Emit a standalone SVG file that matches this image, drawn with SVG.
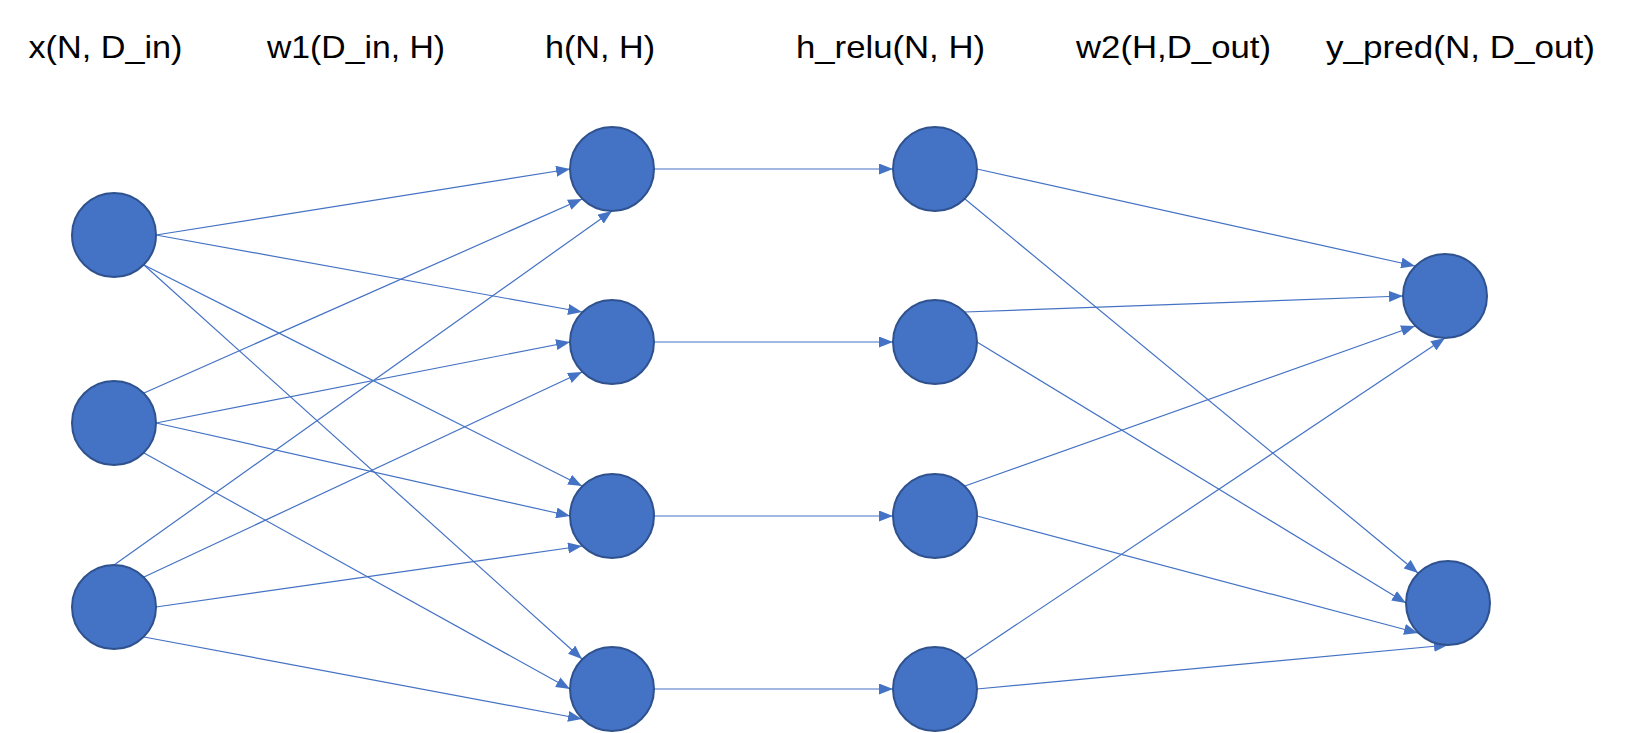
<svg xmlns="http://www.w3.org/2000/svg" width="1635" height="733" viewBox="0 0 1635 733">
<style>
.lbl{font-family:"Liberation Sans",Arial,sans-serif;font-size:32px;fill:#000}
.node{fill:#4472C4;stroke:#2F528F;stroke-width:2}
.edge{stroke:#4472C4;stroke-width:1.2;fill:none;marker-end:url(#arr)}
</style>
<defs>
<marker id="arr" markerWidth="14" markerHeight="11" refX="14" refY="5.5" orient="auto" markerUnits="userSpaceOnUse"><path d="M0,0 L14,5.5 L0,11 z" fill="#4472C4"/></marker>
</defs>
<rect width="1635" height="733" fill="#fff"/>
<g id="labels">
<text class="lbl" x="28.5" y="58" textLength="154" lengthAdjust="spacingAndGlyphs">x(N, D_in)</text>
<text class="lbl" x="267" y="58" textLength="178" lengthAdjust="spacingAndGlyphs">w1(D_in, H)</text>
<text class="lbl" x="545" y="58" textLength="110" lengthAdjust="spacingAndGlyphs">h(N, H)</text>
<text class="lbl" x="796" y="58" textLength="189" lengthAdjust="spacingAndGlyphs">h_relu(N, H)</text>
<text class="lbl" x="1076" y="58" textLength="195" lengthAdjust="spacingAndGlyphs">w2(H,D_out)</text>
<text class="lbl" x="1326" y="58" textLength="269" lengthAdjust="spacingAndGlyphs">y_pred(N, D_out)</text>
</g>
<g id="connectors">
<line class="edge" x1="156" y1="235" x2="570" y2="169"/>
<line class="edge" x1="156" y1="235" x2="582" y2="312"/>
<line class="edge" x1="144" y1="265" x2="582" y2="486"/>
<line class="edge" x1="144" y1="265" x2="582" y2="659"/>
<line class="edge" x1="144" y1="393" x2="582" y2="199"/>
<line class="edge" x1="156" y1="423" x2="570" y2="342"/>
<line class="edge" x1="156" y1="423" x2="570" y2="516"/>
<line class="edge" x1="144" y1="453" x2="570" y2="689"/>
<line class="edge" x1="114" y1="565" x2="612" y2="211"/>
<line class="edge" x1="144" y1="577" x2="582" y2="372"/>
<line class="edge" x1="156" y1="607" x2="582" y2="546"/>
<line class="edge" x1="144" y1="637" x2="582" y2="719"/>
<line class="edge" x1="654" y1="169" x2="893" y2="169"/>
<line class="edge" x1="654" y1="342" x2="893" y2="342"/>
<line class="edge" x1="654" y1="516" x2="893" y2="516"/>
<line class="edge" x1="654" y1="689" x2="893" y2="689"/>
<line class="edge" x1="977" y1="169" x2="1415" y2="266"/>
<line class="edge" x1="965" y1="199" x2="1418" y2="573"/>
<line class="edge" x1="965" y1="312" x2="1403" y2="296"/>
<line class="edge" x1="977" y1="342" x2="1406" y2="603"/>
<line class="edge" x1="965" y1="486" x2="1415" y2="326"/>
<line class="edge" x1="977" y1="516" x2="1418" y2="633"/>
<line class="edge" x1="965" y1="659" x2="1445" y2="338"/>
<line class="edge" x1="977" y1="689" x2="1448" y2="645"/>
</g>
<g id="x1"><circle class="node" cx="114" cy="235" r="42"/></g>
<g id="x2"><circle class="node" cx="114" cy="423" r="42"/></g>
<g id="x3"><circle class="node" cx="114" cy="607" r="42"/></g>
<g id="h1"><circle class="node" cx="612" cy="169" r="42"/></g>
<g id="h2"><circle class="node" cx="612" cy="342" r="42"/></g>
<g id="h3"><circle class="node" cx="612" cy="516" r="42"/></g>
<g id="h4"><circle class="node" cx="612" cy="689" r="42"/></g>
<g id="r1"><circle class="node" cx="935" cy="169" r="42"/></g>
<g id="r2"><circle class="node" cx="935" cy="342" r="42"/></g>
<g id="r3"><circle class="node" cx="935" cy="516" r="42"/></g>
<g id="r4"><circle class="node" cx="935" cy="689" r="42"/></g>
<g id="y1"><circle class="node" cx="1445" cy="296" r="42"/></g>
<g id="y2"><circle class="node" cx="1448" cy="603" r="42"/></g>
</svg>
